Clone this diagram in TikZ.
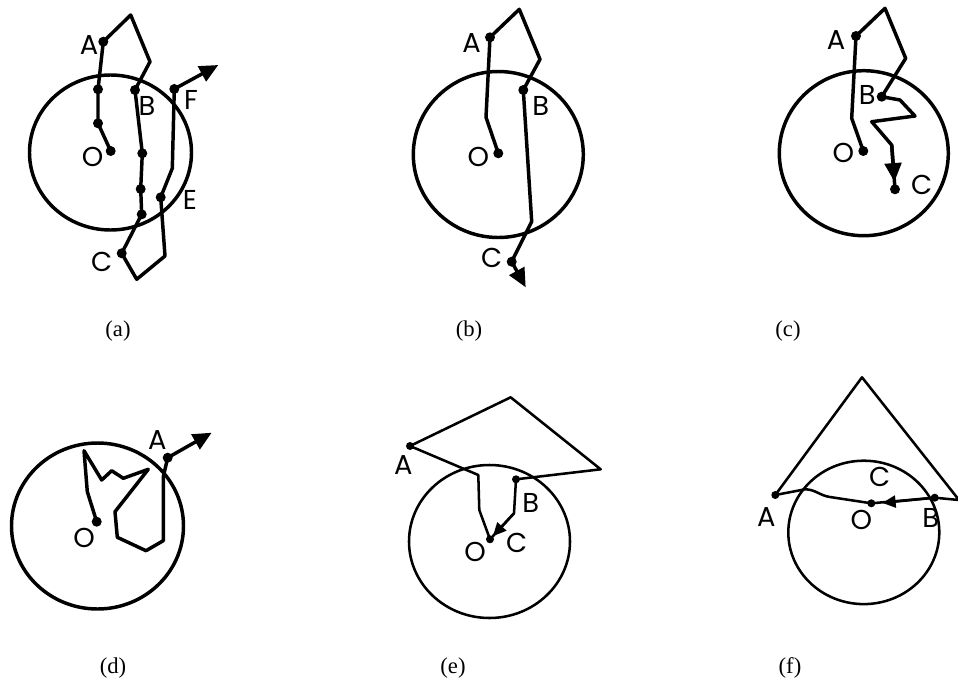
\documentclass[tikz,border=0pt]{standalone}
\usepackage{fontspec}
\setmainfont{Liberation Serif}
\newfontfamily\lblfont{Poppins}
\usetikzlibrary{arrows.meta,calc}
\tikzset{
  pth/.style={line width=2.6pt,line join=round,line cap=round},
  thinpth/.style={line width=1.9pt,line join=round,line cap=round},
  circline/.style={line width=2.6pt},
  thincircline/.style={line width=1.9pt},
  lbl/.style={font=\lblfont\fontsize{20.5}{22}\selectfont,inner sep=0pt},
  captxt/.style={font=\fontsize{17}{19}\selectfont,inner sep=0pt},
  arrtip/.style={-{Triangle[length=14pt,width=12.5pt]}},
  smallarrtip/.style={-{Triangle[length=10pt,width=9pt]}}
}
\newcommand{\pdot}[1]{\fill (#1) circle (5);}
\begin{document}
\begin{tikzpicture}[x=0.75pt,y=-0.75pt]
\useasboundingbox (0,0) rectangle (958,686);
% ---------- (a) ----------
\coordinate (aO) at (110.7,151);
\coordinate (a1) at (98,123.3);
\coordinate (a2) at (98,89.3);
\coordinate (aA) at (103.3,41.7);
\coordinate (a3) at (130.7,15);
\coordinate (a4) at (150,61.7);
\coordinate (aB) at (135,90);
\coordinate (a5) at (142.3,153.3);
\coordinate (a6) at (140.7,189);
\coordinate (a7) at (141.7,214.3);
\coordinate (aC) at (121.7,253.3);
\coordinate (a8) at (136.7,279.3);
\coordinate (a9) at (165,256);
\coordinate (aE) at (160.7,197.3);
\coordinate (a10) at (172.3,168.3);
\coordinate (aF) at (174.3,89);
\coordinate (aT) at (218.3,65);
\draw[circline] (110.5,152.5) ellipse [x radius=81, y radius=77.5];
\draw[pth] (aO) -- (a1) -- (a2) -- (aA) -- (a3) -- (a4) -- (aB) -- (a5) -- (a6) -- (a7) -- (aC) -- (a8) -- (a9) -- (aE) -- (a10) -- (aF);
\draw[pth,arrtip] (aF) -- (aT);
\foreach \p in {aO,a1,a2,aA,aB,a5,a6,a7,aC,aE,aF} {\pdot{\p}}
\node[lbl] (aLA) at (89,45) {A};
\node[lbl] (aLB) at (147,106) {B};
\node[lbl] (aLF) at (191,100) {F};
\node[lbl] (aLE) at (190,200) {E};
\node[lbl] (aLC) at (101.7,261.7) {C};
\node[lbl] (aLO) at (92.7,156.7) {O};
\node[captxt] (capa) at (118,331) {(a)};
% ---------- (b) ----------
\coordinate (bO) at (498.3,153.3);
\coordinate (b1) at (486,117.3);
\coordinate (bA) at (490,37.3);
\coordinate (b2) at (519.3,9.3);
\coordinate (b3) at (540,59.3);
\coordinate (bB) at (523.3,90);
\coordinate (b4) at (531.7,221.7);
\coordinate (bC) at (511.7,261.7);
\coordinate (bT) at (525.7,287.3);
\draw[circline] (498.3,154.5) ellipse [x radius=85, y radius=83];
\draw[pth] (bO) -- (b1) -- (bA) -- (b2) -- (b3) -- (bB) -- (b4) -- (bC);
\draw[pth,arrtip] (bC) -- (bT);
\foreach \p in {bO,bA,bB,bC} {\pdot{\p}}
\node[lbl] (bLA) at (471.7,43.3) {A};
\node[lbl] (bLB) at (540.7,106) {B};
\node[lbl] (bLC) at (491.7,258.3) {C};
\node[lbl] (bLO) at (478.3,156.7) {O};
\node[captxt] (capb) at (469,331) {(b)};
% ---------- (c) ----------
\coordinate (cO) at (863.3,151);
\coordinate (c1) at (851.7,118.3);
\coordinate (cA) at (856,36);
\coordinate (c2) at (885,8.3);
\coordinate (c3) at (905.7,58.3);
\coordinate (cB) at (881.7,96.7);
\coordinate (c4) at (900,100);
\coordinate (c5) at (915,116);
\coordinate (c6) at (871.7,121.7);
\coordinate (c7) at (891.7,145);
\coordinate (cC) at (895,189.3);
\draw[circline] (863.8,153.2) ellipse [x radius=84.5, y radius=82.5];
\draw[pth] (cO) -- (c1) -- (cA) -- (c2) -- (c3) -- (cB) -- (c4) -- (c5) -- (c6) -- (c7) -- (cC);
\draw[pth,arrtip] (c7) -- ($(c7)!0.83!(cC)$);
\foreach \p in {cO,cA,cB,cC} {\pdot{\p}}
\node[lbl] (cLA) at (836,40) {A};
\node[lbl] (cLB) at (867.3,95) {B};
\node[lbl] (cLC) at (921.7,185) {C};
\node[lbl] (cLO) at (843.3,153.3) {O};
\node[captxt] (capc) at (788,331) {(c)};
% ---------- (d) ----------
\coordinate (dO) at (96.7,521.7);
\coordinate (d1) at (87.3,491.7);
\coordinate (d2) at (84,450.7);
\coordinate (d3) at (101.7,480);
\coordinate (d4) at (111.7,470.7);
\coordinate (d5) at (123.3,478.3);
\coordinate (d6) at (148.3,469.3);
\coordinate (d7) at (115,511.7);
\coordinate (d8) at (117.3,537.3);
\coordinate (d9) at (146,550.7);
\coordinate (d10) at (163.3,540.7);
\coordinate (d11) at (163.3,476.7);
\coordinate (dA) at (167.7,457.7);
\coordinate (dT) at (211.7,432.7);
\draw[circline] (97.5,526) ellipse [x radius=86, y radius=83];
\draw[pth] (dO) -- (d1) -- (d2) -- (d3) -- (d4) -- (d5) -- (d6) -- (d7) -- (d8) -- (d9) -- (d10) -- (d11) -- (dA);
\draw[pth,arrtip] (dA) -- (dT);
\foreach \p in {dO,dA} {\pdot{\p}}
\node[lbl] (dLA) at (157.3,440) {A};
\node[lbl] (dLO) at (84,538.3) {O};
\node[captxt] (capd) at (113,668) {(d)};
% ---------- (e) ----------
\coordinate (eA) at (410,446);
\coordinate (e1) at (510.7,397.3);
\coordinate (e2) at (600.7,469.3);
\coordinate (eB) at (516,479.3);
\coordinate (e3) at (514,513.3);
\coordinate (eO) at (490,539.3);
\coordinate (e4) at (478.3,475);
\coordinate (e5) at (479.3,510);
\draw[thincircline] (489.5,541.5) ellipse [x radius=80.5, y radius=76.5];
\draw[thinpth] (eA) -- (e1) -- (e2) -- (eB) -- (e3);
\draw[thinpth,smallarrtip] (e3) -- ($(e3)!0.88!(eO)$);
\draw[thinpth] (e3) -- (eO);
\draw[thinpth] (eA) -- (e4) -- (e5) -- (eO);
\foreach \p in {eA,eB,eO} {\fill (\p) circle (4);}
\node[lbl] (eLA) at (403.3,465) {A};
\node[lbl] (eLB) at (530.7,503.3) {B};
\node[lbl] (eLC) at (516.7,543.3) {C};
\node[lbl] (eLO) at (475,551.7) {O};
\node[captxt] (cape) at (453,668) {(e)};
% ---------- (f) ----------
\coordinate (fA) at (775.3,495);
\coordinate (f1) at (862,377.3);
\coordinate (f2) at (959,500);
\coordinate (fB) at (934.7,497.7);
\coordinate (fO) at (871.3,503.3);
\coordinate (f3) at (805,489.3);
\coordinate (f4) at (830,497);
\draw[thincircline] (863.8,532.4) ellipse [x radius=75.5, y radius=71.7];
\draw[thinpth] (fA) -- (f1) -- (f2) -- (fB) -- (fO);
\draw[thinpth,smallarrtip] (fB) -- ($(fO)+(11,-0.4)$);
\draw[thinpth] (fA) -- (f3) to[out=0,in=172] (f4) -- (fO);
\foreach \p in {fA,fB,fO} {\fill (\p) circle (4);}
\node[lbl] (fLA) at (766.3,516.7) {A};
\node[lbl] (fLB) at (930.7,518.3) {B};
\node[lbl] (fLC) at (879.7,476.7) {C};
\node[lbl] (fLO) at (861.3,520) {O};
\node[captxt] (capf) at (790,668) {(f)};
\end{tikzpicture}
\end{document}
